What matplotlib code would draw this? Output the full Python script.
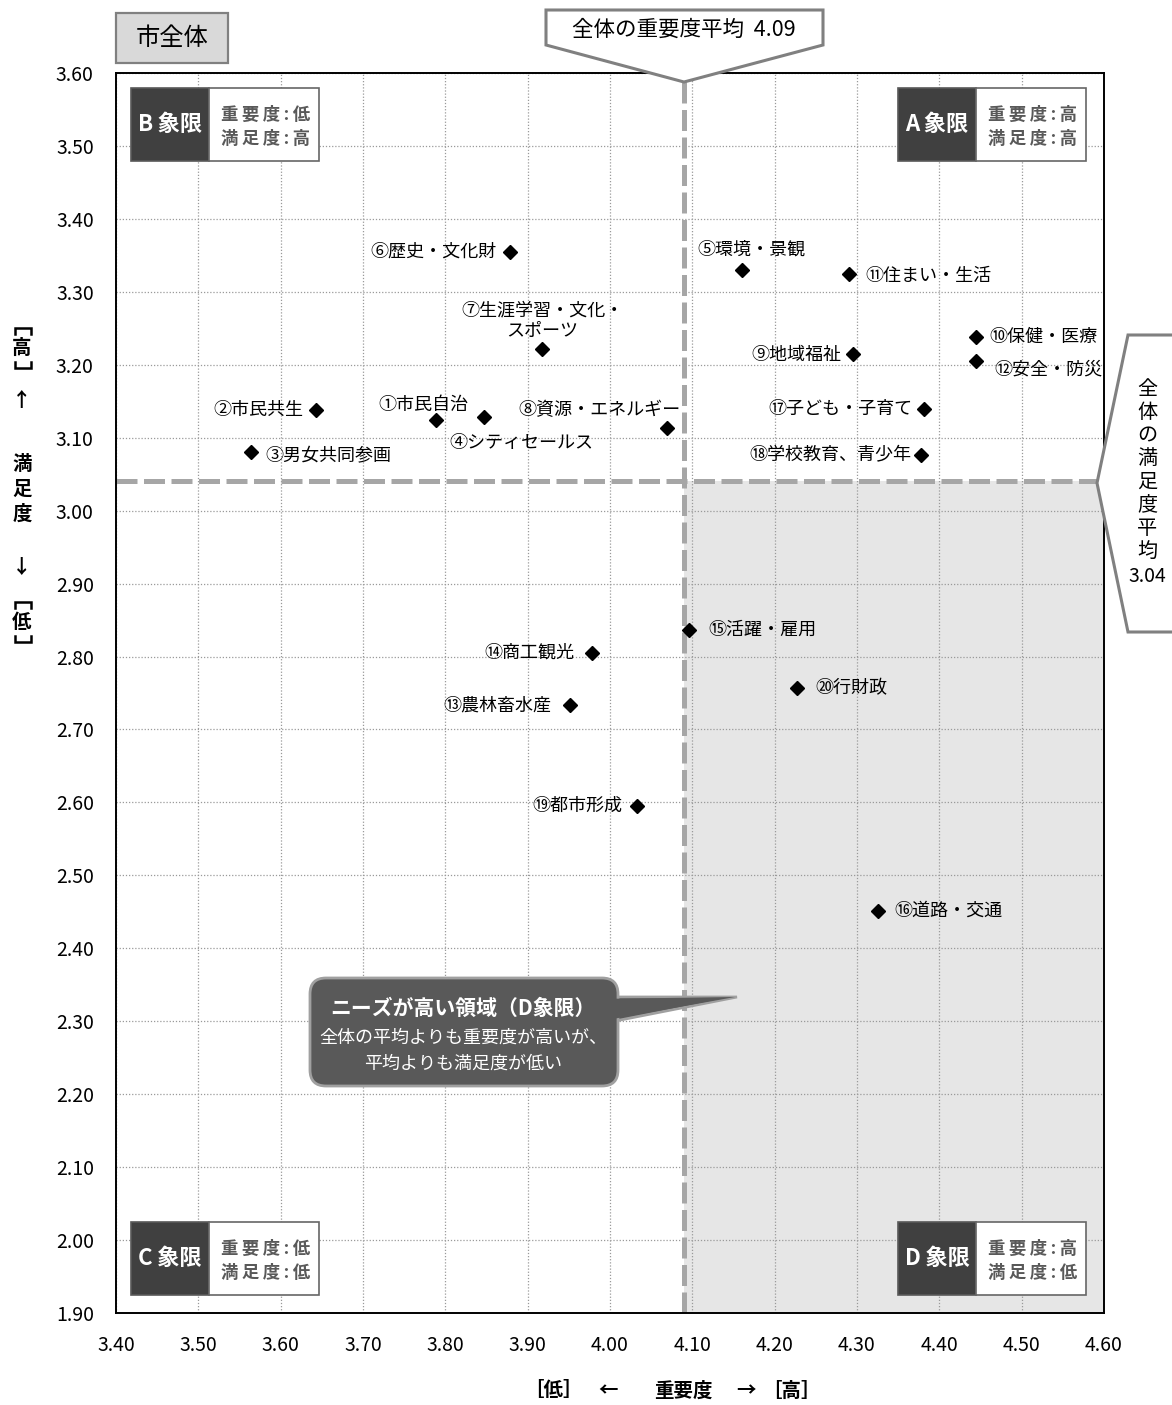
import matplotlib
matplotlib.use("Agg")
import matplotlib.pyplot as plt
from matplotlib.patches import Polygon, Rectangle, FancyBboxPatch

plt.rcParams['font.family'] = ['Noto Sans CJK JP', 'DejaVu Sans']

# datos del grafico
items = ["①市民自治", "②市民共生", "③男女共同参画", "④シティセールス", "⑤環境・景観",
         "⑥歴史・文化財", "⑦生涯学習・文化・\nスポーツ", "⑧資源・エネルギー", "⑨地域福祉",
         "⑩保健・医療", "⑪住まい・生活", "⑫安全・防災", "⑬農林畜水産", "⑭商工観光",
         "⑮活躍・雇用", "⑯道路・交通", "⑰子ども・子育て", "⑱学校教育、青少年",
         "⑲都市形成", "⑳行財政"]
importance = [3.789, 3.643, 3.564, 3.847, 4.160, 3.879, 3.917, 4.069, 4.295, 4.444,
              4.290, 4.444, 3.951, 3.978, 4.096, 4.325, 4.381, 4.378, 4.033, 4.227]
satisfaction = [3.124, 3.138, 3.080, 3.128, 3.330, 3.355, 3.222, 3.113, 3.215, 3.238,
                3.324, 3.205, 2.733, 2.805, 2.837, 2.451, 3.139, 3.076, 2.595, 2.757]
mean_imp = 4.09
mean_sat = 3.04
xticks = [3.40, 3.50, 3.60, 3.70, 3.80, 3.90, 4.00, 4.10, 4.20, 4.30, 4.40, 4.50, 4.60]
yticks = [1.90, 2.00, 2.10, 2.20, 2.30, 2.40, 2.50, 2.60, 2.70, 2.80, 2.90,
          3.00, 3.10, 3.20, 3.30, 3.40, 3.50, 3.60]

# posicion de cada etiqueta (dx, dy en pixeles, alineacion)
label_pos = [(-13, 15, 'center'), (-13, 0, 'right'), (14, -3, 'left'), (-35, -26, 'left'),
             (10, 20, 'center'), (-14, 0, 'right'), (1, 28, 'center'), (-67, 18, 'center'),
             (-12, -1, 'right'), (14, 0, 'left'), (17, -2, 'left'), (19, -8, 'left'),
             (-18, 0, 'right'), (-18, 0, 'right'), (19, 0, 'left'), (17, 0, 'left'),
             (-11, 0, 'right'), (-10, 0, 'right'), (-15, 0, 'right'), (18, 0, 'left')]

W, H = 1172, 1405
fig = plt.figure(figsize=(W / 100, H / 100), dpi=100)
ax = fig.add_axes([116 / W, 1 - 1313 / H, (1104 - 116) / W, (1313 - 73) / H])

ax.set_xlim(3.40, 4.60)
ax.set_ylim(1.90, 3.60)
ax.set_xticks(xticks)
ax.set_yticks(yticks)
ax.set_xticklabels([f"{v:.2f}" for v in xticks])
ax.set_yticklabels([f"{v:.2f}" for v in yticks])
ax.tick_params(length=0, labelsize=14, pad=16)
ax.grid(True, color='#9a9a9a', linestyle=(0, (1, 1.5)), linewidth=0.9)
ax.set_axisbelow(True)
for s in ax.spines.values():
    s.set_linewidth(1.4)
    s.set_color('black')

# zona D sombreada
ax.fill_between([mean_imp, 4.60], 1.90, mean_sat, color='#e6e6e6', zorder=0.5, linewidth=0)

# lineas de promedio
ax.axvline(mean_imp, color='#a6a6a6', linewidth=3.6, dashes=(4.2, 1.3), zorder=1.5)
ax.axhline(mean_sat, color='#a6a6a6', linewidth=3.6, dashes=(4.2, 1.3), zorder=1.5)

ax.plot(importance, satisfaction, linestyle='none', marker='D', markersize=7.5,
        color='black', zorder=3)

for name, x, y, (dx, dy, ha) in zip(items, importance, satisfaction, label_pos):
    ax.annotate(name, (x, y), xytext=(dx, dy), textcoords='offset pixels',
                ha=ha, va='center', fontsize=13, multialignment='center', zorder=4)

# capa de dibujo en pixeles
ov = fig.add_axes([0, 0, 1, 1], zorder=5)
ov.set_xlim(0, W)
ov.set_ylim(H, 0)
ov.axis('off')

# caja "市全体"
ov.add_patch(Rectangle((116, 13), 112, 50, facecolor='#d9d9d9', edgecolor='#808080', linewidth=1.6))
ov.text(172, 38, "市全体", ha='center', va='center', fontsize=17.5)

# cajas de cuadrantes
sp = "\u2009"
quad = [("B象限", "重要度:低", "満足度:高", 131, 88),
        ("A象限", "重要度:高", "満足度:高", 898, 88),
        ("C象限", "重要度:低", "満足度:低", 131, 1222),
        ("D象限", "重要度:高", "満足度:低", 898, 1222)]
for name, l1, l2, x0, y0 in quad:
    h = 73
    ov.add_patch(Rectangle((x0, y0), 78, h, facecolor='#404040', edgecolor='#595959', linewidth=1.2))
    ov.add_patch(Rectangle((x0 + 78, y0), 110, h, facecolor='white', edgecolor='#666666', linewidth=1.2))
    ov.text(x0 + 39, y0 + h / 2, name[0] + sp + name[1:], ha='center', va='center', color='white',
            fontsize=16, fontweight='bold')
    ov.text(x0 + 78 + 57, y0 + 27, sp.join(l1), ha='center', va='center', color='#595959',
            fontsize=12.5, fontweight='bold')
    ov.text(x0 + 78 + 57, y0 + 51, sp.join(l2), ha='center', va='center', color='#595959',
            fontsize=12.5, fontweight='bold')

# llamada superior
ov.add_patch(Polygon([(546, 10), (823, 10), (823, 45), (684, 82), (546, 45)],
                     closed=True, facecolor='white', edgecolor='#808080', linewidth=2.2))
ov.text(684, 30, "全体の重要度平均  4.09", ha='center', va='center', fontsize=15.5)

# llamada derecha
ov.add_patch(Polygon([(1128, 335), (1185, 335), (1185, 632), (1128, 632), (1097, 483)],
                     closed=True, facecolor='white', edgecolor='#808080', linewidth=2.2,
                     clip_on=False))
for i, ch in enumerate("全体の満足度平均"):
    ov.text(1147, 390 + 23 * i, ch, ha='center', va='center', fontsize=14.5)
ov.text(1147, 577, "3.04", ha='center', va='center', fontsize=14)

# llamada D
ov.add_patch(Polygon([(600, 997), (737, 997), (600, 1024)], closed=True,
                     facecolor='#595959', edgecolor='#a0a0a0', linewidth=2))
ov.add_patch(FancyBboxPatch((310, 978), 308, 108, boxstyle='round,pad=0,rounding_size=16',
                            facecolor='#595959', edgecolor='#a0a0a0', linewidth=2))
ov.add_patch(Polygon([(596, 999), (735, 997), (596, 1022)], closed=True,
                     facecolor='#595959', edgecolor='none'))
ov.text(463, 1008, "ニーズが高い領域（D象限）", ha='center', va='center', color='white',
        fontsize=15, fontweight='bold')
ov.text(463, 1038, "全体の平均よりも重要度が高いが、", ha='center', va='center', color='white', fontsize=13)
ov.text(463, 1064, "平均よりも満足度が低い", ha='center', va='center', color='white', fontsize=13)

# etiqueta eje x
for txt, xc in [("［低］", 553), ("←", 608), ("重要度", 683), ("→", 746), ("［高］", 791)]:
    ov.text(xc, 1391, txt, ha='center', va='center', fontsize=14, fontweight='bold')

# etiqueta eje y (vertical)
ylab = [("高", 348), ("↑", 400), ("満", 464), ("足", 489), ("度", 514), ("↓", 568), ("低", 622)]
for ch, yc in ylab:
    ov.text(22, yc, ch, ha='center', va='center', fontsize=14, fontweight='bold')
# corchetes verticales
for top, bot in [(328, 368), (602, 642)]:
    ov.plot([15, 15, 31, 31], [top + 6, top, top, top + 6], color='black', linewidth=1.8,
            solid_joinstyle='miter')
    ov.plot([15, 15, 31, 31], [bot - 6, bot, bot, bot - 6], color='black', linewidth=1.8,
            solid_joinstyle='miter')

fig.savefig("out.png", dpi=100)
